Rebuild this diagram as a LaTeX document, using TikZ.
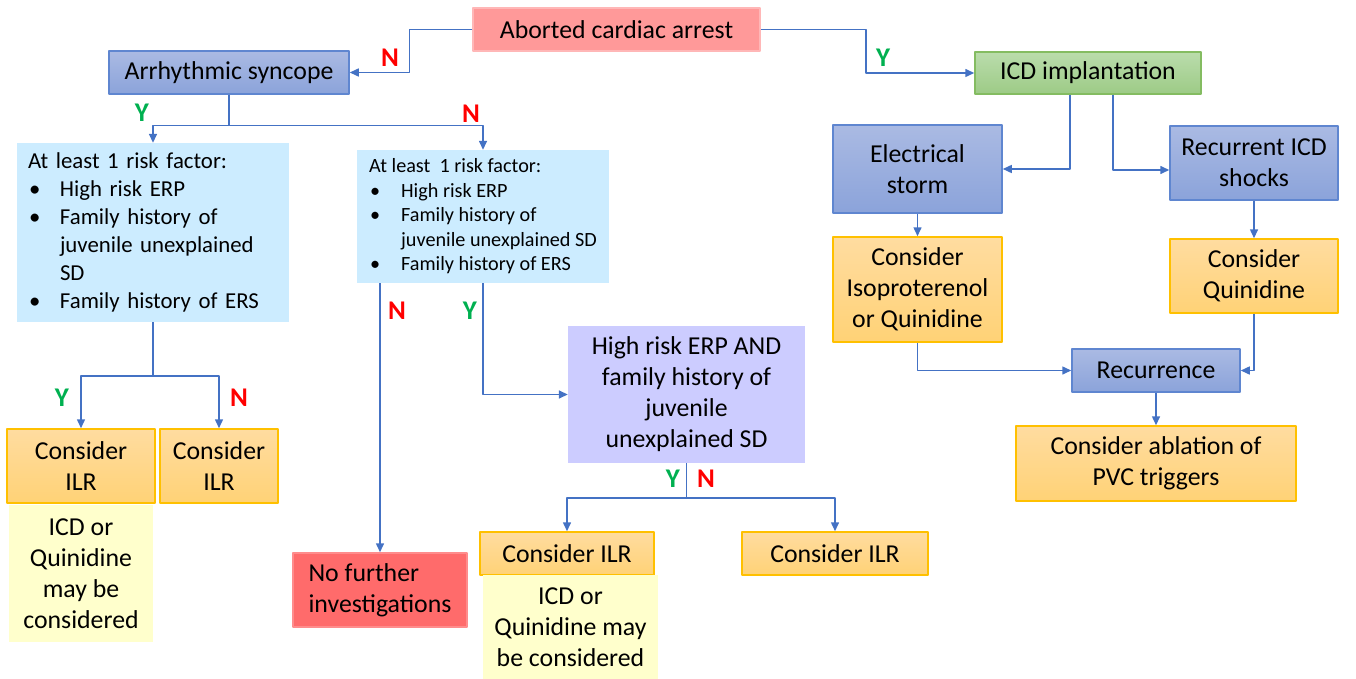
\documentclass[tikz,border=0pt]{standalone}
\usepackage{fontspec}
\setmainfont{Carlito}
\usetikzlibrary{arrows.meta}
\definecolor{lineblue}{HTML}{4472C4}
\definecolor{yesgreen}{HTML}{00B050}
\definecolor{nored}{HTML}{FF0000}
\definecolor{arrestfill}{HTML}{FF9999}
\definecolor{arrestline}{HTML}{FFB7B7}
\definecolor{bluetop}{HTML}{AABAE3}
\definecolor{bluebot}{HTML}{8BA3DA}
\definecolor{blueline}{HTML}{5F86D0}
\definecolor{greentop}{HTML}{BADCAC}
\definecolor{greenbot}{HTML}{9DCB86}
\definecolor{greenline}{HTML}{84BC61}
\definecolor{orangetop}{HTML}{FFDCA0}
\definecolor{orangebot}{HTML}{FFD276}
\definecolor{orangeline}{HTML}{FFC000}
\definecolor{riskfill}{HTML}{CCECFF}
\definecolor{purplefill}{HTML}{CCCCFF}
\definecolor{notefill}{HTML}{FFFFCC}
\definecolor{stopfill}{HTML}{FF6B6B}
\definecolor{stopline}{HTML}{FF8C8C}
\newcommand{\bul}{\makebox[32pt][l]{\hspace{1pt}\textbullet}}
\newcommand{\cont}{\hspace*{32pt}}
\tikzset{
  base/.style={inner sep=0pt, align=center, font=\fontsize{25.8}{31}\selectfont},
  redbox/.style={base, fill=arrestfill, draw=arrestline, line width=1.5pt},
  bluebox/.style={base, top color=bluetop, bottom color=bluebot, draw=blueline, line width=1.5pt},
  greenbox/.style={base, top color=greentop, bottom color=greenbot, draw=greenline, line width=1.5pt},
  orangebox/.style={base, top color=orangetop, bottom color=orangebot, draw=orangeline, line width=1.5pt},
  riskbox/.style={inner xsep=11pt, inner ysep=0pt, fill=riskfill, align=left},
  purplebox/.style={base, fill=purplefill},
  notebox/.style={base, fill=notefill},
  stopbox/.style={base, align=left, fill=stopfill, draw=stopline, line width=1.5pt},
  conn/.style={draw=lineblue, line width=1.5pt},
  ylab/.style={text=yesgreen, font=\fontsize{27}{30}\selectfont\bfseries},
  nlab/.style={text=nored, font=\fontsize{27}{30}\selectfont\bfseries}
}
\begin{document}
\begin{tikzpicture}[x=1pt, y=-1pt, >={Triangle[length=9pt,width=8pt]}, line join=round]
\useasboundingbox (0,0) rectangle (1356,679);

\node[redbox, minimum width=287pt, minimum height=43pt] (arrest) at (616.5,29.5) {Aborted cardiac arrest};
\node[bluebox, minimum width=240pt, minimum height=43pt] (syncope) at (229,72.5) {Arrhythmic syncope};
\node[greenbox, minimum width=226pt, minimum height=42pt] (icd) at (1088,73) {ICD implantation};

\node[riskbox, text width=250pt, minimum height=179pt, font=\fontsize{22.8}{28}\selectfont] (risk1) at (153,232.5)
  {At least 1 risk factor:\\
   \bul High risk ERP\\
   \bul Family history of\\
   \cont juvenile unexplained\\
   \cont SD\\
   \bul Family history of ERS};
\node[riskbox, minimum width=252pt, minimum height=133pt, font=\fontsize{20.2}{24.5}\selectfont] (risk2) at (483,216.5)
  {At least\ \ 1 risk factor:\\
   \bul High risk ERP\\
   \bul Family history of\\
   \cont juvenile unexplained SD\\
   \bul Family history of ERS};

\node[bluebox, minimum width=169pt, minimum height=88pt] (storm) at (917.5,169) {Electrical\\storm};
\node[bluebox, minimum width=168pt, minimum height=74pt] (shocks) at (1254,163) {Recurrent ICD\\shocks};
\node[orangebox, minimum width=169pt, minimum height=105pt] (isoq) at (917.5,289.5) {Consider\\Isoproterenol\\or Quinidine};
\node[orangebox, minimum width=168pt, minimum height=74pt] (quin) at (1254,276) {Consider\\Quinidine};
\node[bluebox, minimum width=168pt, minimum height=43pt] (recur) at (1156,370.5) {Recurrence};
\node[orangebox, minimum width=280pt, minimum height=75pt] (ablation) at (1156,463.5) {Consider ablation of\\PVC triggers};

\node[purplebox, minimum width=237pt, minimum height=137pt] (highrisk) at (686.5,394.5) {High risk ERP AND\\family history of\\juvenile\\unexplained SD};

\node[orangebox, minimum width=148pt, minimum height=74pt] (ilrA) at (81,466) {Consider\\ILR};
\node[orangebox, minimum width=118pt, minimum height=74pt] (ilrB) at (219,466) {Consider\\ILR};
\node[notebox, minimum width=144pt, minimum height=137pt] (noteA) at (81,573.5) {ICD or\\Quinidine\\may be\\considered};
\node[stopbox, minimum width=174pt, minimum height=74pt] (nofurther) at (380,590) {No further\\investigations};
\node[orangebox, minimum width=174pt, minimum height=43pt] (ilrC) at (567,553.5) {Consider ILR};
\node[notebox, minimum width=175pt, minimum height=104pt] (noteB) at (570.5,627) {ICD or\\Quinidine may\\be considered};
\node[orangebox, minimum width=186pt, minimum height=43pt] (ilrD) at (835,553.5) {Consider ILR};

\draw[conn,->] (arrest.west) -- ++(-63,0) |- (syncope.east);
\draw[conn,->] (arrest.east) -- ++(105,0) |- (icd.west);
\draw[conn] (syncope.south) -- ++(0,31) coordinate (sy);
\draw[conn,->] (sy) -| (risk1.north);
\draw[conn,->] (sy) -| (risk2.north);
\draw[conn] (risk1.south) -- ++(0,54) coordinate (r1);
\draw[conn,->] (r1) -| (ilrA.north);
\draw[conn,->] (r1) -| (ilrB.north);
\draw[conn,->] (nofurther.north |- risk2.south) -- (nofurther.north);
\draw[conn,->] (risk2.south) |- (highrisk.west);
\draw[conn] (highrisk.south) -- ++(0,35) coordinate (hr);
\draw[conn,->] (hr) -| (ilrC.north);
\draw[conn,->] (hr) -| (ilrD.north);
\draw[conn,->] ([xshift=-18pt]icd.south) |- (storm.east);
\draw[conn,->] ([xshift=25pt]icd.south) |- ([yshift=-7pt]shocks.west);
\draw[conn,->] (storm.south) -- (isoq.north);
\draw[conn,->] (shocks.south) -- (quin.north);
\draw[conn,->] (isoq.south) |- (recur.west);
\draw[conn,->] (quin.south) |- (recur.east);
\draw[conn,->] (recur.south) -- (ablation.north);

\node[nlab] (n1) at (390,58) {N};
\node[ylab] (y1) at (883,58) {Y};
\node[ylab] (y2) at (142,113) {Y};
\node[nlab] (n2) at (471,114) {N};
\node[ylab] (y3) at (62,398) {Y};
\node[nlab] (n3) at (239,398) {N};
\node[nlab] (n4) at (397,311) {N};
\node[ylab] (y4) at (470,311) {Y};
\node[ylab] (y5) at (673,479) {Y};
\node[nlab] (n5) at (706,479) {N};
\end{tikzpicture}
\end{document}
